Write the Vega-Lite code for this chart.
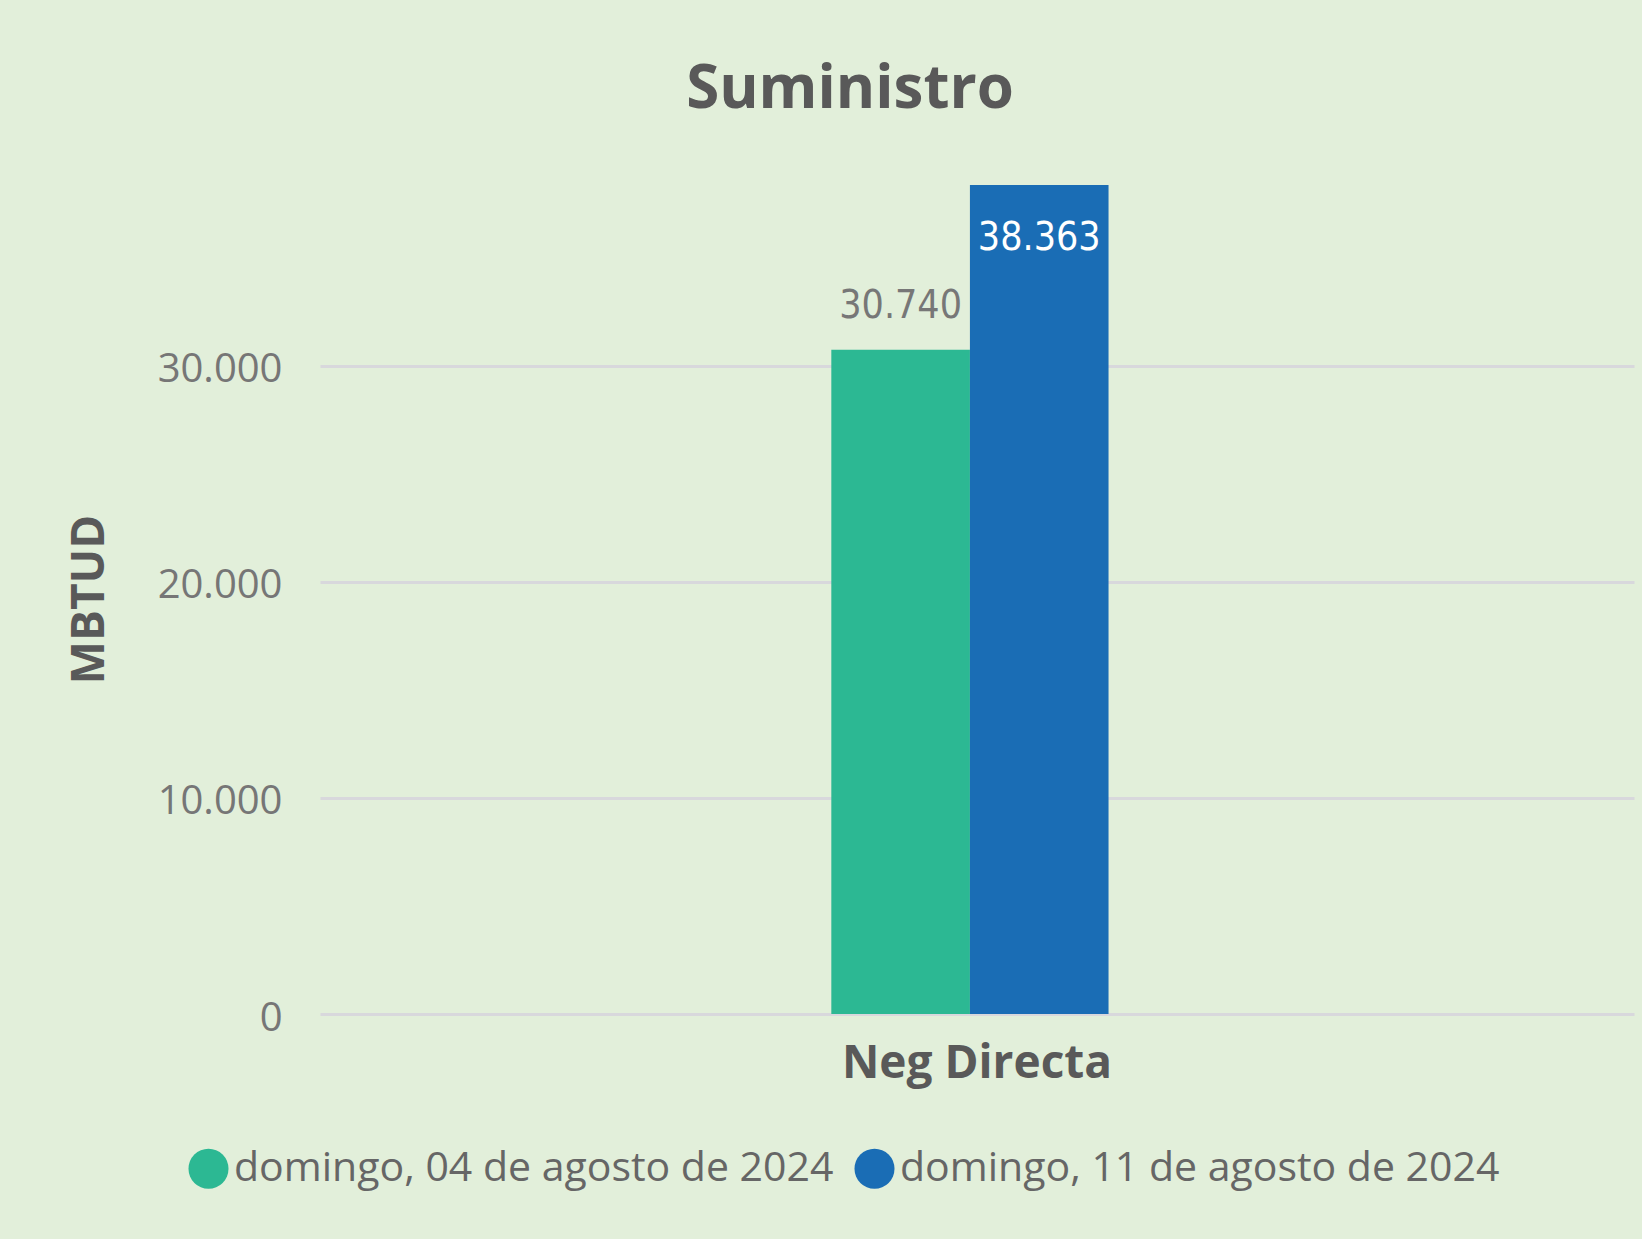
{
  "$schema": "https://vega.github.io/schema/vega-lite/v6.json",
  "autosize": {"type": "none"},
  "width": 1314,
  "height": 829,
  "padding": {"left": 320, "top": 185, "right": 8, "bottom": 225},
  "background": "#E2EFDA",
  "config": {
    "view": {"stroke": null},
    "locale": {"number": {"decimal": ",", "thousands": ".", "grouping": [3], "currency": ["$", ""]}},
    "font": "Open Sans"
  },
  "title": {
    "text": "Suministro",
    "font": "Open Sans",
    "fontSize": 60,
    "fontWeight": "bold",
    "color": "#595959",
    "anchor": "middle",
    "frame": "bounds",
    "baseline": "alphabetic",
    "offset": 17
  },
  "data": {
    "values": [
      {"categoria": "Neg Directa", "fecha": "domingo, 04 de agosto de 2024", "valor": 30740},
      {"categoria": "Neg Directa", "fecha": "domingo, 11 de agosto de 2024", "valor": 38363}
    ]
  },
  "encoding": {
    "x": {
      "field": "categoria",
      "type": "nominal",
      "scale": {"paddingInner": 0, "paddingOuter": 1},
      "axis": {
        "title": null,
        "domain": false,
        "ticks": false,
        "labelAngle": 0,
        "labelLimit": 0,
        "labelFont": "Open Sans",
        "labelFontSize": 46,
        "labelFontWeight": "bold",
        "labelColor": "#595959",
        "labelPadding": 27
      }
    },
    "xOffset": {
      "field": "fecha",
      "type": "nominal",
      "scale": {"domain": ["domingo, 04 de agosto de 2024", "domingo, 11 de agosto de 2024"], "paddingInner": 0, "paddingOuter": 0.58, "align": 0.456}
    },
    "y": {
      "field": "valor",
      "type": "quantitative",
      "scale": {"domain": [0, 38363], "nice": false, "zero": true},
      "axis": {
        "title": "MBTUD",
        "values": [0, 10000, 20000, 30000],
        "format": ",d",
        "domain": false,
        "ticks": false,
        "grid": true,
        "gridColor": "#D8D8DC",
        "gridWidth": 3,
        "labelFont": "Open Sans",
        "labelFontSize": 40,
        "labelColor": "#767676",
        "labelPadding": 38,
        "labelOffset": 4,
        "titleFont": "Open Sans",
        "titleFontSize": 46,
        "titleFontWeight": "bold",
        "titleColor": "#595959",
        "titleAngle": 270,
        "titleX": -231,
        "titleY": 414,
        "titleAlign": "center",
        "titleBaseline": "middle"
      }
    }
  },
  "layer": [
    {
      "mark": {"type": "bar"},
      "encoding": {
        "color": {
          "field": "fecha",
          "type": "nominal",
          "scale": {"domain": ["domingo, 04 de agosto de 2024", "domingo, 11 de agosto de 2024"], "range": ["#2CB893", "#1A6DB5"]},
          "legend": {
            "title": null,
            "orient": "none",
            "direction": "horizontal",
            "legendX": -132,
            "legendY": 963,
            "padding": 0,
            "symbolType": "circle",
            "symbolSize": 1600,
            "symbolStrokeWidth": 0,
            "symbolOpacity": 1,
            "labelFont": "Open Sans",
            "labelFontSize": 41,
            "labelColor": "#666666",
            "labelOffset": 5,
            "labelLimit": 0,
            "columnPadding": 20
          }
        }
      }
    },
    {
      "transform": [{"filter": "datum.fecha == 'domingo, 04 de agosto de 2024'"}],
      "mark": {"type": "text", "font": "DejaVu Sans Condensed", "fontSize": 39, "color": "#777777", "baseline": "alphabetic", "dy": -32},
      "encoding": {"text": {"field": "valor", "type": "quantitative", "format": ",d"}}
    },
    {
      "transform": [{"filter": "datum.fecha == 'domingo, 11 de agosto de 2024'"}],
      "mark": {"type": "text", "font": "DejaVu Sans Condensed", "fontSize": 39, "color": "#FFFFFF", "baseline": "alphabetic", "dy": 65},
      "encoding": {"text": {"field": "valor", "type": "quantitative", "format": ",d"}}
    }
  ]
}
